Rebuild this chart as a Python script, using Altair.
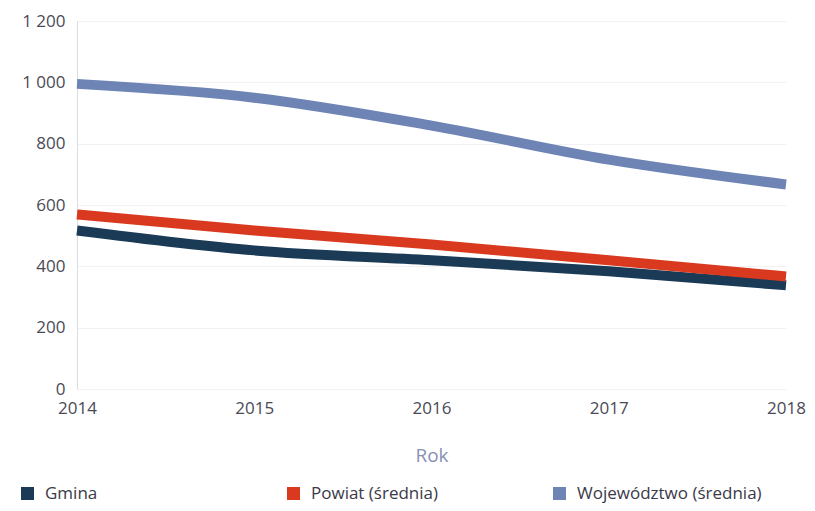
import altair as alt
import pandas as pd

years = [2014, 2015, 2016, 2017, 2018]
series_names = ["Gmina", "Powiat (średnia)", "Województwo (średnia)"]
gmina = [517, 452, 420, 384, 338]
powiat = [569, 517, 471, 420, 367]
wojewodztwo = [995, 950, 859, 748, 667]
colors = ["#1b3a56", "#d93a1f", "#6d84b4"]

rows = []
for name, vals in zip(series_names, [gmina, powiat, wojewodztwo]):
    for y, v in zip(years, vals):
        rows.append({"Rok": y, "Wartość": v, "Seria": name})
df = pd.DataFrame(rows)

chart = alt.Chart(df).mark_line(strokeWidth=10, interpolate="monotone", strokeCap="butt").encode(
    x=alt.X("Rok:Q", scale=alt.Scale(domain=[2014, 2018], nice=False),
            axis=alt.Axis(values=years, format="d", title="Rok", grid=False, domain=False, ticks=False,
                          labelFlush=False,
                          labelFontSize=17, labelColor="#4a4a55", labelPadding=11,
                          titleFontSize=19, titleColor="#8a8fb5", titleFontWeight="normal", titlePadding=30,
                          labelFont="Open Sans", titleFont="Open Sans")),
    y=alt.Y("Wartość:Q", scale=alt.Scale(domain=[0, 1200], nice=False),
            axis=alt.Axis(values=[0, 200, 400, 600, 800, 1000, 1200], title=None,
                          labelExpr="replace(format(datum.value, ','), ',', ' ')",
                          grid=True, gridColor="#f2f2f4", domain=True, domainColor="#dcdce4", ticks=False,
                          labelFontSize=17, labelColor="#4a4a55", labelPadding=12, labelFont="Open Sans")),
    color=alt.Color("Seria:N", scale=alt.Scale(domain=series_names, range=colors),
                    legend=alt.Legend(title=None, orient="none", legendX=-58, legendY=464, direction="horizontal",
                                      columns=3, gridAlign="all", columnPadding=42,
                                      symbolType="square", symbolSize=9, symbolStrokeWidth=10,
                                      labelFontSize=17, labelColor="#3a3a48", labelFont="Open Sans",
                                      labelLimit=400, labelOffset=9)),
    order=alt.Order("Seria:N")
).properties(
    width=709, height=368,
    autosize=alt.AutoSizeParams(type="none"),
    padding={"left": 69, "top": 13, "right": 21, "bottom": 114},
).configure_view(stroke=None)

chart.save("out.html", embed_options={"renderer": "svg", "actions": False})
